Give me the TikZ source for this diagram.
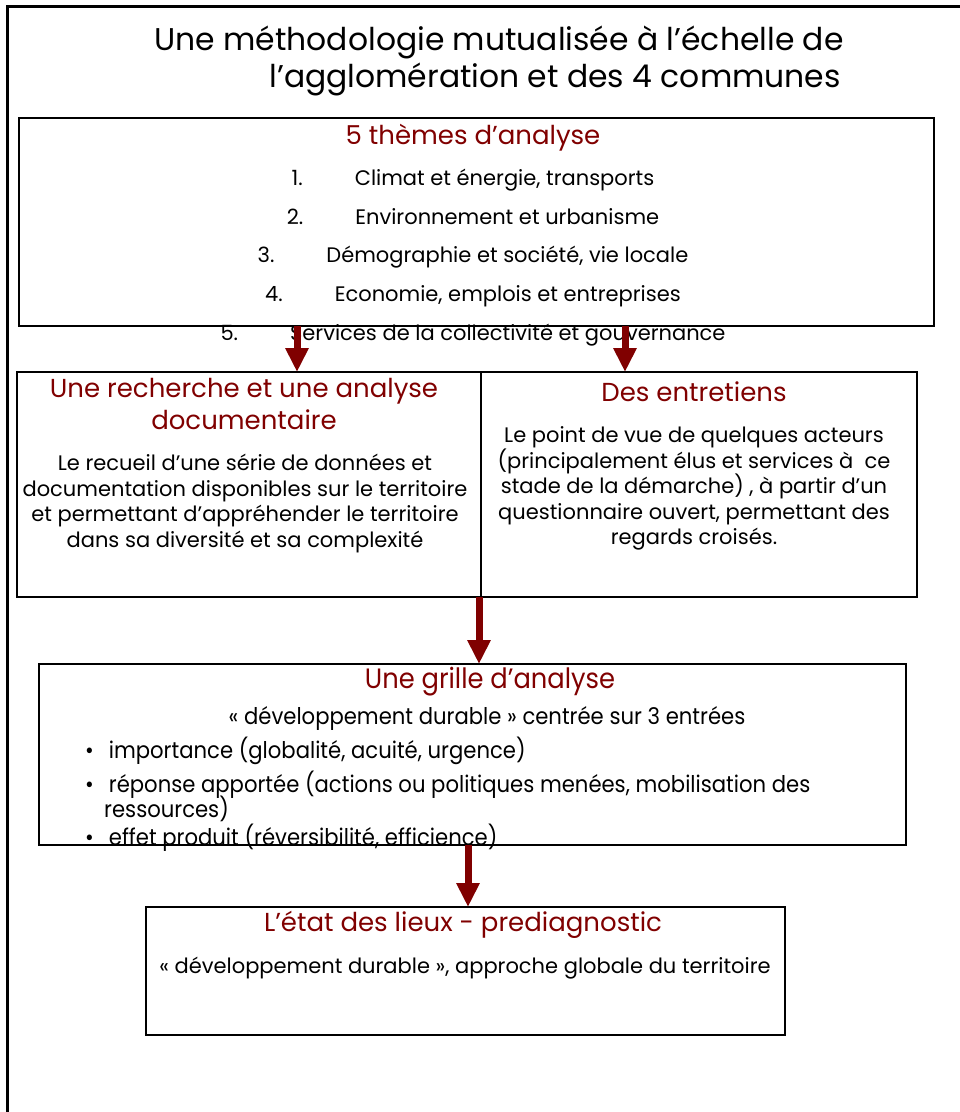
\documentclass[tikz,border=0pt]{standalone}
\usepackage{fontspec}
\setmainfont{Poppins}
\newfontfamily\narrowfont{Poppins}[FakeStretch=0.92]
\usetikzlibrary{arrows.meta,positioning}
\definecolor{darkred}{RGB}{128,0,0}
\setlength{\lineskiplimit}{-20pt}

\begin{document}
\begin{tikzpicture}[x=1pt, y=-1pt,
        box/.style={draw, line width=2.5pt, outer sep=0pt, inner sep=0pt, anchor=north west},
        heading/.style={text=darkred, font=\fontsize{26}{32}\selectfont, align=center, inner sep=0pt},
        body/.style={font=\fontsize{21}{25.6}\selectfont, align=center, inner sep=0pt},
        flow/.style={draw=darkred, line width=7pt, -{Triangle[width=22pt,length=24pt]}}]

        \clip (0,0) rectangle (960,1112);

        \draw[line width=3pt]
            (7,1200) -- (7,6) -- (1100,6);

        \node[font=\fontsize{31.4}{37.5}\selectfont, align=left, inner sep=0pt] (title)
            at (499,61) {Une méthodologie mutualisée à l’échelle de\\\hspace*{115pt}l’agglomération et des 4 communes};

        % boites
        \node[box, minimum width=915pt, minimum height=208pt] (themes) at (19,118) {};
        \node[box, minimum width=464pt, minimum height=225pt] (recherche) at (17,372) {};
        \node[box, minimum width=436pt, minimum height=225pt] (entretiens) at (481,372) {};
        \node[box, minimum width=867pt, minimum height=181pt] (grille) at (39,664) {};
        \node[box, minimum width=639pt, minimum height=128pt] (etat) at (146,907) {};

        % textes
        \node[heading] (themes title) at (473,138) {5 thèmes d’analyse};
        \node[body, font=\fontsize{21}{38.7}\selectfont] (themes list) at (473,257.5) {%
            1.\hspace{52pt}Climat et énergie, transports\\
            2.\hspace{52pt}Environnement et urbanisme\\
            3.\hspace{52pt}Démographie et société, vie locale\\
            4.\hspace{52pt}Economie, emplois et entreprises\\
            5.\hspace{52pt}Services de la collectivité et gouvernance};

        \node[heading] (recherche title) at (244,404) {Une recherche et une analyse\\documentaire};
        \node[body] (recherche text) at (245,503.5) {Le recueil d’une série de données et\\
            documentation disponibles sur le territoire\\
            et permettant d’appréhender le territoire\\
            dans sa diversité et sa complexité};

        \node[heading] (entretiens title) at (694,392) {Des entretiens};
        \node[body] (entretiens text) at (694,488.5) {Le point de vue de quelques acteurs\\
            (principalement élus et services à~ ce\\
            stade de la démarche) , à partir d’un\\
            questionnaire ouvert, permettant des\\
            regards croisés.};

        \node[heading, font=\narrowfont\fontsize{28}{32}\selectfont] (grille title) at (490,682) {Une grille d’analyse};
        \node[body, font=\narrowfont\fontsize{23}{26}\selectfont] (grille sub) at (487,718) {« développement durable » centrée sur 3 entrées};
        \node[body, font=\narrowfont\fontsize{23}{25}\selectfont, align=left, anchor=north west] (grille list) at (85,737) {%
            •\hspace*{15pt}importance (globalité, acuité, urgence)\\[9pt]
            •\hspace*{15pt}réponse apportée (actions ou politiques menées, mobilisation des\\
            \hspace*{19pt}ressources)\\[3pt]
            •\hspace*{15pt}effet produit (réversibilité, efficience)};

        \node[heading] (etat title) at (463,925) {L’état des lieux - prediagnostic};
        \node[body] (etat text) at (465,968) {« développement durable », approche globale du territoire};

        % fleches
        \draw[flow] ([xshift=48pt]recherche.north |- themes.south) -- ([xshift=48pt]recherche.north);
        \draw[flow] ([xshift=-74pt]entretiens.north |- themes.south) -- ([xshift=-74pt]entretiens.north);
        \draw[flow] ([xshift=-2pt]recherche.south east) -- ([xshift=-2pt]recherche.south east |- grille.north);
        \draw[flow] ([xshift=2.5pt]etat.north |- grille.south) -- ([xshift=2.5pt]etat.north);

\end{tikzpicture}
\end{document}
